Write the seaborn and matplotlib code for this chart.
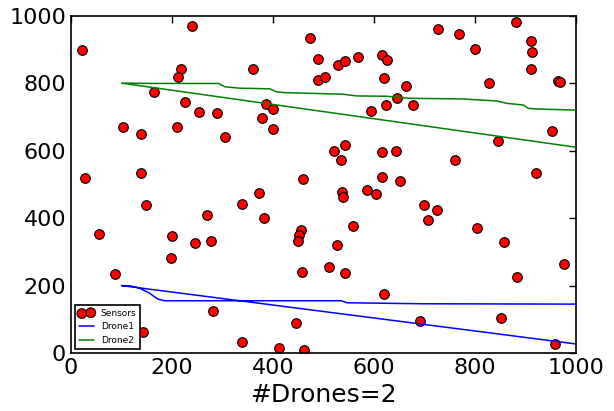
import numpy as np
import pandas as pd
import matplotlib
matplotlib.use('Agg')
import matplotlib.pyplot as plt
import seaborn as sns

# sensor positions
sensor_x = [22, 240, 217, 212, 165, 226, 253, 290, 104, 138, 209, 306, 28, 139,
            473, 490, 529, 543, 569, 616, 626, 360, 490, 504, 620, 663, 386, 401,
            378, 401, 646, 624, 595, 520, 543, 534, 615, 643, 459, 616, 652,
            727, 769, 881, 801, 911, 913, 911, 828, 965, 968, 677, 953, 845, 760,
            920, 148, 56, 201, 270, 246, 277, 199, 88, 338, 281, 142, 338,
            372, 382, 455, 451, 449, 537, 539, 586, 604, 558, 527, 457, 511, 543,
            619, 446, 411, 461, 700, 725, 708, 804, 857, 977, 883, 692, 852, 958]
sensor_y = [898, 970, 841, 817, 773, 743, 715, 711, 671, 649, 671, 641, 520, 535,
            933, 872, 855, 865, 876, 884, 869, 841, 810, 817, 816, 791, 738, 724,
            697, 665, 757, 734, 717, 600, 617, 572, 595, 600, 515, 522, 510,
            961, 946, 980, 901, 924, 892, 842, 801, 807, 804, 734, 658, 628, 571,
            535, 439, 353, 348, 408, 327, 331, 281, 235, 441, 125, 63, 32,
            474, 399, 365, 350, 332, 476, 463, 483, 471, 377, 321, 241, 254, 237,
            175, 90, 14, 10, 439, 423, 394, 372, 329, 263, 225, 94, 104, 27]

# drone paths
drone1_x = [1000, 100, 117, 135, 155, 172, 185, 535, 547, 700, 1000]
drone1_y = [27, 200, 199, 193, 178, 160, 155, 155, 149, 146, 145]
drone2_x = [1000, 100, 160, 292, 305, 334, 394, 407, 420, 539, 566, 625, 671,
            777, 843, 863, 896, 906, 929, 1000]
drone2_y = [610, 800, 799, 799, 789, 785, 783, 774, 772, 767, 762, 761, 755,
            753, 747, 740, 735, 725, 723, 720]

sns.set_style('white')
plt.rcParams['font.family'] = ['DejaVu Sans']
plt.rcParams['text.color'] = 'black'
plt.rcParams['axes.labelcolor'] = 'black'
plt.rcParams['xtick.color'] = 'black'
plt.rcParams['ytick.color'] = 'black'

sensors = pd.DataFrame({'x': sensor_x, 'y': sensor_y})
d1 = pd.DataFrame({'x': drone1_x, 'y': drone1_y})
d2 = pd.DataFrame({'x': drone2_x, 'y': drone2_y})

fig = plt.figure(figsize=(6.14, 4.11), dpi=100)
ax = fig.add_axes([0.1156, 0.141, 0.8224, 0.821])

sns.scatterplot(data=sensors, x='x', y='y', ax=ax, color='red', s=48,
                edgecolor='black', linewidth=0.8, label='Sensors', zorder=2)
sns.lineplot(data=d1, x='x', y='y', ax=ax, sort=False, estimator=None,
             color='blue', linewidth=1.1, label='Drone1', zorder=3)
sns.lineplot(data=d2, x='x', y='y', ax=ax, sort=False, estimator=None,
             color='green', linewidth=1.1, label='Drone2', zorder=3)

ax.set_xlim(0, 1000)
ax.set_ylim(0, 1000)
ax.set_xticks([0, 200, 400, 600, 800, 1000])
ax.set_yticks([0, 200, 400, 600, 800, 1000])
ax.tick_params(direction='in', top=True, right=True, length=5, width=1,
               labelsize=16, colors='black')
for s in ax.spines.values():
    s.set_color('black')
    s.set_linewidth(1.2)
ax.set_xlabel('#Drones=2', fontsize=18, color='black')
ax.set_ylabel('')

leg = ax.legend(loc='lower left', scatterpoints=2, fontsize=6.5, fancybox=False,
                framealpha=1, edgecolor='black', handlelength=1.6)
leg.get_frame().set_linewidth(1.2)
for t in leg.get_texts():
    t.set_color('black')

plt.savefig('out.png', dpi=100)
